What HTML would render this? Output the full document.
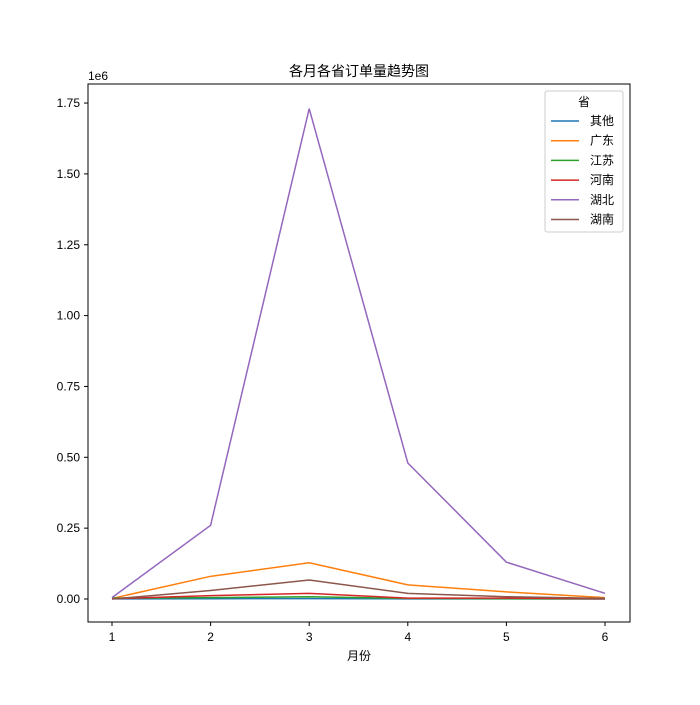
<!DOCTYPE html>
<html><head><meta charset="utf-8"><style>
body{margin:0;background:#fff}
svg text{font-family:"Liberation Sans","Noto Sans CJK SC",sans-serif;font-size:12px;fill:#000}
</style></head><body>
<svg id="c" width="700" height="700" xmlns="http://www.w3.org/2000/svg">
<rect x="0" y="0" width="700" height="700" fill="#fff"/>
<text x="359" y="76" text-anchor="middle" font-size="14" style="font-size:14px">各月各省订单量趋势图</text>
<text x="88" y="80">1e6</text>
<text x="359" y="660" text-anchor="middle">月份</text>
<g id="ticks"></g>
<g id="lines"></g>
<rect x="88" y="84" width="542" height="538" fill="none" stroke="#000" stroke-width="1"/>
<g id="legend"></g>
</svg>
<script>
const months=[1,2,3,4,5,6];
const provinces=["其他","广东","江苏","河南","湖北","湖南"];
const colors=["#1f77b4","#ff7f0e","#2ca02c","#d62728","#9467bd","#8c564b"];
const vOther=[500,1000,1500,500,300,200];
const vGuangdong=[2000,80000,128000,50000,25000,5000];
const vJiangsu=[3000,5000,8000,2000,1000,500];
const vHenan=[1000,12000,20000,3000,3000,1000];
const vHubei=[5000,260000,1730000,480000,130000,20000];
const vHunan=[0,30000,67000,20000,8000,2000];
const series=[vOther,vGuangdong,vJiangsu,vHenan,vHubei,vHunan];
const yTicks=[0,0.25,0.5,0.75,1.0,1.25,1.5,1.75];
const yTickLabels=["0.00","0.25","0.50","0.75","1.00","1.25","1.50","1.75"];
const NS="http://www.w3.org/2000/svg";
const xS=m=>112+(m-1)*98.6;
const yS=v=>599-v/1e6*283.4;
const tg=document.getElementById('ticks');
function mk(tag,attrs,parent){const e=document.createElementNS(NS,tag);for(const k in attrs)e.setAttribute(k,attrs[k]);parent.appendChild(e);return e;}
months.forEach(m=>{
  const l=mk('line',{x1:xS(m),x2:xS(m),y1:622,y2:626,stroke:'#000'},tg);
  
  
  const t=mk('text',{x:xS(m),y:641,'text-anchor':'middle'},tg);t.textContent=m;
  
  
});
yTicks.forEach((v,i)=>{
  const y=yS(v*1e6);
  const l=mk('line',{x1:84,x2:88,y1:y,y2:y,stroke:'#000'},tg);
  
  
  const t=mk('text',{x:80,y:y+4,'text-anchor':'end'},tg);t.textContent=yTickLabels[i];
  
  
});
const lg=document.getElementById('lines');
series.forEach((s,i)=>{
  const p=mk('polyline',{points:s.map((v,j)=>xS(months[j])+','+yS(v)).join(' '),fill:'none',stroke:colors[i],'stroke-width':1.5},lg);
  
  
});
const leg=document.getElementById('legend');
const box=mk('rect',{x:545,y:91,width:78,height:141,rx:2,fill:'#fff','fill-opacity':0.8,stroke:'#ccc'},leg);


const lt=mk('text',{x:584,y:106,'text-anchor':'middle'},leg);lt.textContent='省';


provinces.forEach((p,i)=>{
  const y=121+i*19.7;
  const l=mk('line',{x1:551,x2:579,y1:y,y2:y,stroke:colors[i],'stroke-width':1.5},leg);
  
  
  const t=mk('text',{x:590,y:y+4},leg);t.textContent=p;
  
  
});
</script>
</body></html>
